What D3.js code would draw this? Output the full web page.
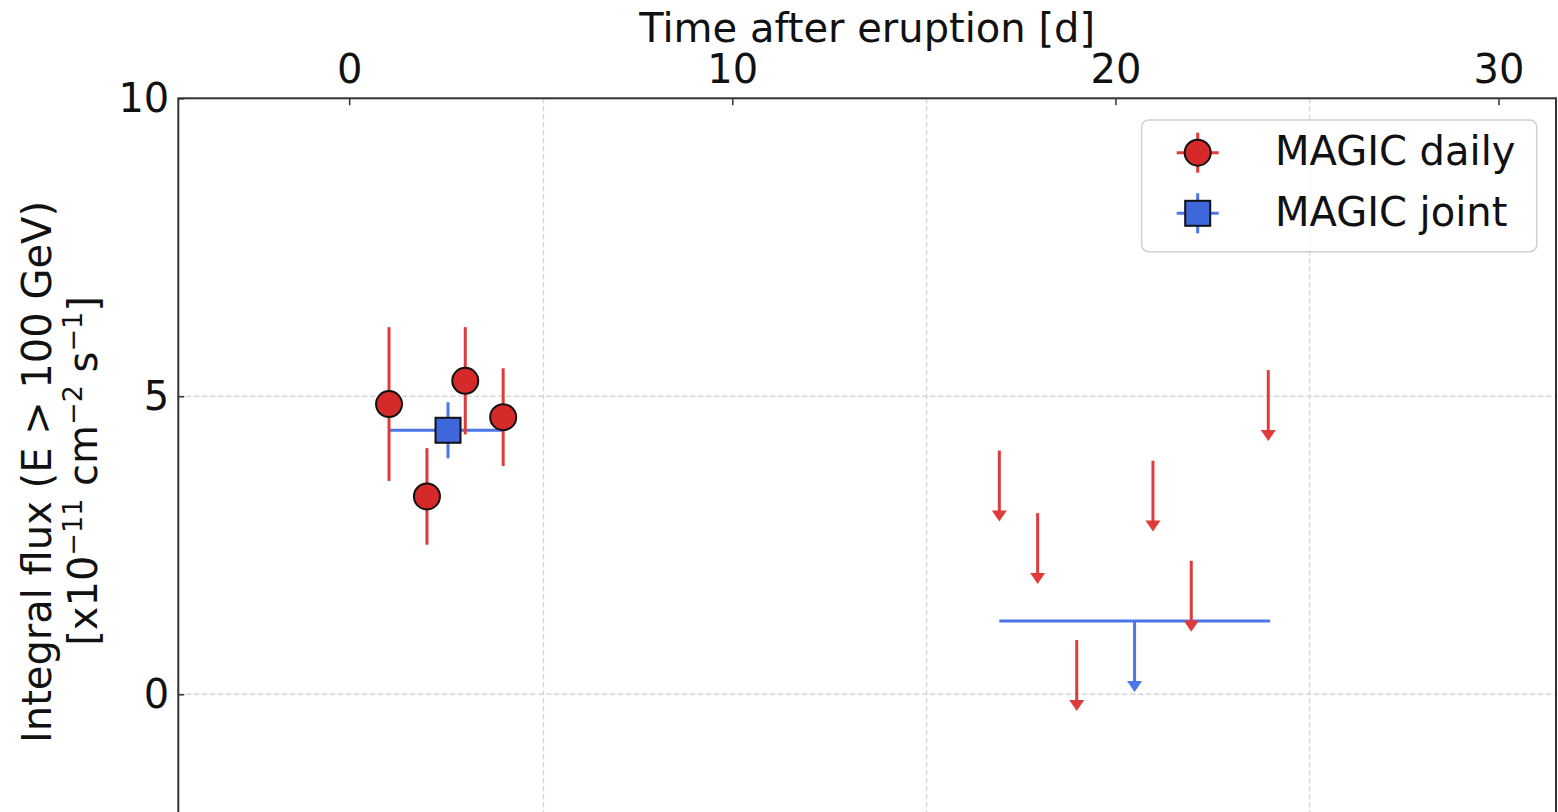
<!DOCTYPE html>
<html>
<head>
<meta charset="utf-8">
<script src="https://cdn.jsdelivr.net/npm/d3@7"></script>
<style>
  body { margin: 0; background: #fff; }
  svg { display: block; }
  text { font-family: "DejaVu Sans", sans-serif; fill: #111; }
</style>
</head>
<body>
<svg id="chart"></svg>
<script>
// MAGIC daily detections (days after eruption, flux in 1e-11 cm^-2 s^-1)
const dailyT = [1.04, 2.03, 3.03, 4.02]
const dailyFlux = [4.87, 3.32, 5.26, 4.65]
const dailyErr = [1.29, 0.81, 0.90, 0.82]

// MAGIC daily upper limits
const ulT = [16.97, 17.97, 18.99, 20.98, 21.98, 23.99]
const ulFlux = [4.09, 3.04, 0.91, 3.92, 2.24, 5.44]

// MAGIC joint fit, first period (detection) and second period (upper limit)
const jointT = [2.58]
const jointFlux = [4.43]
const jointErr = [0.47]
const jointTLo = [1.04]
const jointTHi = [4.02]
const jointUlT = [20.5]
const jointUlFlux = [1.23]
const jointUlTLo = [16.97]
const jointUlTHi = [24.04]

const topTicks = [0, 10, 20, 30]
const yTicks = [0, 5, 10]
const mjdTicks = [59430, 59440, 59450, 59460] // bottom axis (off screen), used for grid
const t0 = 59434.93 // eruption MJD

const W = 1558, H = 812
const mLeft = 178.3, mTop = 98.3, mRight = 1556, mBottom = 813.5
const ulLen = 1.19 // arrow length of upper limits

const red = '#d62a2a', redBar = '#e03b3b'
const blue = '#3f67dc', blueBar = '#4a76e8'

const svg = d3.select('#chart').attr('width', W).attr('height', H)

const x = d3.scaleLinear().domain([-4.46, 31.5]).range([mLeft, mRight])
const y = d3.scaleLinear().domain([-2, 10]).range([mBottom, mTop])

// grid
const grid = svg.append('g')
    .attr('stroke', '#d4d4d4').attr('stroke-width', 1.4).attr('stroke-dasharray', '5,3')
grid.selectAll('.vg')
    .data(mjdTicks.map(m => m - t0).filter(t => t > -4.46 && t < 31.5))
    .join('line')
    .attr('x1', d => x(d)).attr('x2', d => x(d))
    .attr('y1', mTop).attr('y2', mBottom)
grid.selectAll('.hg')
    .data(yTicks.filter(v => v < 10))
    .join('line')
    .attr('x1', mLeft).attr('x2', mRight)
    .attr('y1', d => y(d)).attr('y2', d => y(d))

const plot = svg.append('g')

// joint horizontal bars
plot.selectAll('.jx')
    .data(jointT.map((t, i) => ({lo: jointTLo[i], hi: jointTHi[i], v: jointFlux[i]}))
        .concat(jointUlT.map((t, i) => ({lo: jointUlTLo[i], hi: jointUlTHi[i], v: jointUlFlux[i]}))))
    .join('line')
    .attr('x1', d => x(d.lo)).attr('x2', d => x(d.hi))
    .attr('y1', d => y(d.v)).attr('y2', d => y(d.v))
    .attr('stroke', blueBar).attr('stroke-width', 3)

// upper limit arrows
function arrows(ts, vs, color) {
    const g = plot.append('g')
    const data = ts.map((t, i) => ({t, v: vs[i]}))
    g.selectAll('line')
        .data(data)
        .join('line')
        .attr('x1', d => x(d.t)).attr('x2', d => x(d.t))
        .attr('y1', d => y(d.v)).attr('y2', d => y(d.v - ulLen) - 6)
        .attr('stroke', color).attr('stroke-width', 3)
    g.selectAll('path')
        .data(data)
        .join('path')
        .attr('d', d => {
            const cx = x(d.t), ty = y(d.v - ulLen)
            return `M${cx - 7.5},${ty - 11}L${cx + 7.5},${ty - 11}L${cx},${ty}Z`
        })
        .attr('fill', color)
}
arrows(ulT, ulFlux, redBar)
arrows(jointUlT, jointUlFlux, blueBar)

// daily error bars
plot.selectAll('.de')
    .data(dailyT.map((t, i) => ({t, v: dailyFlux[i], e: dailyErr[i]})))
    .join('line')
    .attr('class', 'de')
    .attr('x1', d => x(d.t)).attr('x2', d => x(d.t))
    .attr('y1', d => y(d.v + d.e)).attr('y2', d => y(d.v - d.e))
    .attr('stroke', redBar).attr('stroke-width', 3)

// joint vertical error
plot.selectAll('.je')
    .data(jointT.map((t, i) => ({t, v: jointFlux[i], e: jointErr[i]})))
    .join('line')
    .attr('class', 'je')
    .attr('x1', d => x(d.t)).attr('x2', d => x(d.t))
    .attr('y1', d => y(d.v + d.e)).attr('y2', d => y(d.v - d.e))
    .attr('stroke', blueBar).attr('stroke-width', 3)

plot.selectAll('circle')
    .data(dailyT.map((t, i) => ({t, v: dailyFlux[i]})))
    .join('circle')
    .attr('cx', d => x(d.t)).attr('cy', d => y(d.v)).attr('r', 13)
    .attr('fill', red).attr('stroke', '#111').attr('stroke-width', 2)

plot.selectAll('rect')
    .data(jointT.map((t, i) => ({t, v: jointFlux[i]})))
    .join('rect')
    .attr('x', d => x(d.t) - 12.5).attr('y', d => y(d.v) - 12.5)
    .attr('width', 25).attr('height', 25)
    .attr('fill', blue).attr('stroke', '#111').attr('stroke-width', 2)

// axes
const topAxis = svg.append('g')
    .attr('transform', `translate(0,${mTop})`)
    .call(d3.axisTop(x).tickValues(topTicks).tickSizeInner(-7).tickSizeOuter(0).tickPadding(15))
topAxis.select('.domain').remove()
topAxis.selectAll('line').attr('stroke', '#333').attr('stroke-width', 1.5)
topAxis.selectAll('text').attr('font-size', 40).attr('fill', '#111')
    .attr('font-family', '"DejaVu Sans", sans-serif')

const leftAxis = svg.append('g')
    .attr('transform', `translate(${mLeft},0)`)
    .call(d3.axisLeft(y).tickValues(yTicks).tickSizeInner(-6).tickSizeOuter(0).tickPadding(9))
leftAxis.select('.domain').remove()
leftAxis.selectAll('line').attr('stroke', '#333').attr('stroke-width', 1.5)
leftAxis.selectAll('text').attr('font-size', 40).attr('fill', '#111')
    .attr('font-family', '"DejaVu Sans", sans-serif')

// spines
svg.append('rect')
    .attr('x', mLeft).attr('y', mTop)
    .attr('width', mRight - mLeft).attr('height', mBottom - mTop)
    .attr('fill', 'none').attr('stroke', '#333').attr('stroke-width', 2)

// titles
svg.append('text')
    .attr('x', (mLeft + mRight) / 2).attr('y', 42)
    .attr('text-anchor', 'middle').attr('font-size', 40)
    .text('Time after eruption [d]')

svg.append('text')
    .attr('transform', 'translate(51,472) rotate(-90)')
    .attr('text-anchor', 'middle').attr('font-size', 40)
    .text('Integral flux (E > 100 GeV)')

const yl2 = svg.append('text')
    .attr('transform', 'translate(97,471) rotate(-90)')
    .attr('text-anchor', 'middle').attr('font-size', 40)
const parts = [['[x10', false], ['\u221211', true], [' cm', false], ['\u22122', true], [' s', false], ['\u22121', true], [']', false]]
let raised = false
parts.forEach(([s, sup]) => {
    const ts = yl2.append('tspan').text(s)
    if (sup) {
        ts.attr('font-size', 27)
        if (!raised) { ts.attr('dy', -15); raised = true }
    } else if (raised) {
        ts.attr('dy', 15); raised = false
    }
})

// legend
const lg = svg.append('g')
lg.append('rect')
    .attr('x', 1141.7).attr('y', 120).attr('width', 395).attr('height', 131.7)
    .attr('rx', 7).attr('fill', '#fff').attr('fill-opacity', 0.8)
    .attr('stroke', '#d0d0d0').attr('stroke-width', 1.5)
const items = [['MAGIC daily', 'circle'], ['MAGIC joint', 'square']]
items.forEach(([name, shape], i) => {
    const cy = 152.7 + i * 60.6, cx = 1197.7
    const c = shape === 'circle' ? redBar : blueBar
    lg.append('line').attr('x1', cx - 21).attr('x2', cx + 21).attr('y1', cy).attr('y2', cy)
        .attr('stroke', c).attr('stroke-width', 3)
    lg.append('line').attr('x1', cx).attr('x2', cx).attr('y1', cy - 20).attr('y2', cy + 20)
        .attr('stroke', c).attr('stroke-width', 3)
    if (shape === 'circle') {
        lg.append('circle').attr('cx', cx).attr('cy', cy).attr('r', 13)
            .attr('fill', red).attr('stroke', '#111').attr('stroke-width', 2)
    } else {
        lg.append('rect').attr('x', cx - 12.5).attr('y', cy - 12.5).attr('width', 25).attr('height', 25)
            .attr('fill', blue).attr('stroke', '#111').attr('stroke-width', 2)
    }
    lg.append('text').attr('x', 1275).attr('y', cy + 12.5).attr('font-size', 40).text(name)
})
</script>
</body>
</html>
